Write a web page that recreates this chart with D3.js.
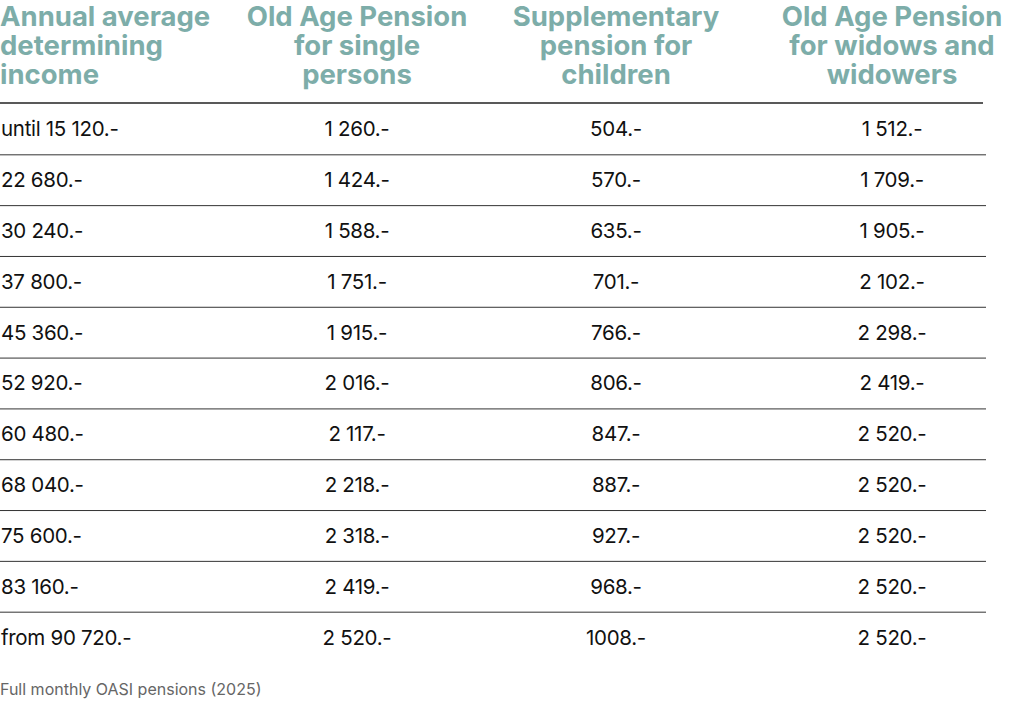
<!DOCTYPE html>
<html>
<head>
<meta charset="utf-8">
<script src="https://cdn.jsdelivr.net/npm/d3@7"></script>
<style>
body { margin: 0; background: #fff; }
</style>
</head>
<body>
<div class="canvas"></div>
<script>
var width = 1011,
    height = 701;

var headers = [
    ["Annual average", "determining", "income"],
    ["Old Age Pension", "for single", "persons"],
    ["Supplementary", "pension for", "children"],
    ["Old Age Pension", "for widows and", "widowers"]
];
var incomes = ["until 15 120.-", "22 680.-", "30 240.-", "37 800.-", "45 360.-", "52 920.-",
    "60 480.-", "68 040.-", "75 600.-", "83 160.-", "from 90 720.-"];
var singlePension = ["1 260.-", "1 424.-", "1 588.-", "1 751.-", "1 915.-", "2 016.-",
    "2 117.-", "2 218.-", "2 318.-", "2 419.-", "2 520.-"];
var childPension = ["504.-", "570.-", "635.-", "701.-", "766.-", "806.-",
    "847.-", "887.-", "927.-", "968.-", "1008.-"];
var widowPension = ["1 512.-", "1 709.-", "1 905.-", "2 102.-", "2 298.-", "2 419.-",
    "2 520.-", "2 520.-", "2 520.-", "2 520.-", "2 520.-"];
var caption = "Full monthly OASI pensions (2025)";

var svg = d3.select(".canvas").append("svg")
    .attr("width", width)
    .attr("height", height)
    .style("font-family", "Inter, 'Noto Sans', sans-serif");

// column centres (first column is left aligned)
var colX = [0, 357, 616, 892];
var colAnchor = ["start", "middle", "middle", "middle"];

var y = d3.scaleBand()
    .domain(d3.range(incomes.length))
    .range([104, 663]);

// header
headers.forEach(function(lines, c) {
    var t = svg.append("text")
        .attr("x", colX[c])
        .attr("text-anchor", colAnchor[c])
        .attr("fill", "#7dada9")
        .attr("font-size", 27.5)
        .attr("font-weight", 700);
    lines.forEach(function(l, i) {
        t.append("tspan")
            .attr("x", colX[c])
            .attr("y", 26 + i * 29)
            .text(l);
    });
});

svg.append("line")
    .attr("x1", 0).attr("x2", 983)
    .attr("y1", 103).attr("y2", 103)
    .attr("stroke", "#222").attr("stroke-width", 1.5);

var rows = svg.selectAll(".row")
    .data(incomes)
    .enter().append("g")
    .attr("class", "row")
    .attr("transform", function(d, i) { return "translate(0," + y(i) + ")"; });

rows.filter(function(d, i) { return i < incomes.length - 1; })
    .append("line")
    .attr("x1", 0).attr("x2", 986)
    .attr("y1", y.bandwidth()).attr("y2", y.bandwidth())
    .attr("stroke", "#333").attr("stroke-width", 1);

var columns = [incomes, singlePension, childPension, widowPension];
columns.forEach(function(col, c) {
    rows.append("text")
        .attr("x", colX[c] + (c === 0 ? 1 : 0))
        .attr("y", y.bandwidth() / 2 + 7)
        .attr("text-anchor", colAnchor[c])
        .attr("fill", "#111")
        .attr("font-size", 20.5)
        .attr("letter-spacing", -0.3)
        .text(function(d, i) { return col[i]; });
});

svg.append("text")
    .attr("x", 0)
    .attr("y", 695)
    .attr("fill", "#666")
    .attr("font-size", 16)
    .text(caption);
</script>
</body>
</html>
